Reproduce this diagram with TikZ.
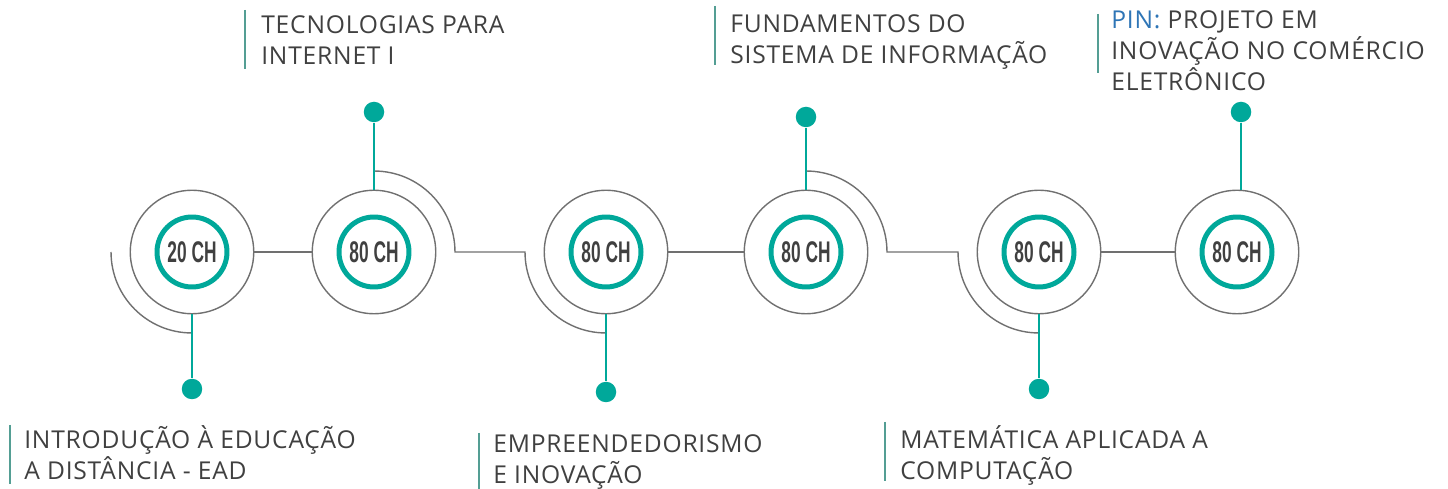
\documentclass[tikz,border=0pt]{standalone}
\usepackage{fontspec}
\setmainfont{Open Sans}[LetterSpace=3.2]
\newfontfamily\chfont{Liberation Sans}
\definecolor{tealmain}{RGB}{0,168,154}
\definecolor{barteal}{RGB}{84,158,148}
\definecolor{ringgray}{RGB}{112,112,112}
\definecolor{textgray}{RGB}{64,64,64}
\definecolor{pinblue}{RGB}{46,117,182}
\newcommand{\chlabel}[1]{\scalebox{0.58}[1]{\chfont\bfseries\fontsize{17}{17}\selectfont #1 CH}}
\newcommand{\lblstrut}{\rule{0pt}{15pt}}
\tikzset{outer/.style = {draw=ringgray, line width=0.8pt, circle, inner sep=0, minimum size=2.47cm}}
\tikzset{ring/.style = {draw=tealmain, line width=0.1cm, circle, inner sep=0, minimum size=1.4cm, text=textgray}}
\tikzset{dot/.style = {fill=tealmain, circle, inner sep=0, minimum size=0.41cm}}
\tikzset{track/.style = {draw=ringgray, line width=0.8pt}}
\tikzset{stem/.style = {draw=tealmain, line width=1.1pt}}
\tikzset{bar/.style = {draw=barteal, line width=1.1pt}}
\tikzset{lbl/.style = {anchor=north west, align=left, inner sep=0, text=textgray,
                       font=\fontsize{14}{17.8}\selectfont}}

\begin{document}
\begin{tikzpicture}[x=0.02cm, y=0.02cm]
  \useasboundingbox (0, 0) rectangle (1448, -489);
  % circles
  \node [outer] (c1) at (192, -252) {};
  \node [outer] (c2) at (374, -252) {};
  \node [outer] (c3) at (606, -252) {};
  \node [outer] (c4) at (806, -252) {};
  \node [outer] (c5) at (1039, -252) {};
  \node [outer] (c6) at (1237, -252) {};
  \node [ring] (r1) at (c1) {\chlabel{20}};
  \node [ring] (r2) at (c2) {\chlabel{80}};
  \node [ring] (r3) at (c3) {\chlabel{80}};
  \node [ring] (r4) at (c4) {\chlabel{80}};
  \node [ring] (r5) at (c5) {\chlabel{80}};
  \node [ring] (r6) at (c6) {\chlabel{80}};
  % track
  \draw [track] (c1) -- (c2);
  \draw [track] (c3) -- (c4);
  \draw [track] (c5) -- (c6);
  \draw [track] ([xshift=-1.62cm]c1.center) arc [start angle=180, end angle=270, radius=1.62cm];
  \draw [track] ([yshift=1.62cm]c2.center) arc [start angle=90, end angle=0, radius=1.62cm]
    -- ([xshift=-1.62cm]c3.center) arc [start angle=180, end angle=270, radius=1.62cm];
  \draw [track] ([yshift=1.62cm]c4.center) arc [start angle=90, end angle=0, radius=1.62cm]
    -- ([xshift=-1.62cm]c5.center) arc [start angle=180, end angle=270, radius=1.62cm];
  % dots
  \node [dot] (d1) at (192, -389) {};
  \node [dot] (d2) at (374, -112) {};
  \node [dot] (d3) at (606, -392) {};
  \node [dot] (d4) at (806, -117) {};
  \node [dot] (d5) at (1039, -389) {};
  \node [dot] (d6) at (1241, -112) {};
  \draw [stem] (c1) -- (d1);
  \draw [stem] (c2) -- (d2);
  \draw [stem] (c3) -- (d3);
  \draw [stem] (c4) -- (d4);
  \draw [stem] (c5) -- (d5);
  \draw [stem] (d6) -- (d6 |- c6.north);
  % labels
  \node [lbl] (l1) at (24, -421.6) {\lblstrut INTRODUÇÃO À EDUCAÇÃO\\A DISTÂNCIA - EAD};
  \node [lbl] (l2) at (261, -6.6) {\lblstrut TECNOLOGIAS PARA\\INTERNET I};
  \node [lbl] (l3) at (493, -426) {\lblstrut EMPREENDEDORISMO\\E INOVAÇÃO};
  \node [lbl] (l4) at (730, -5.6) {\lblstrut FUNDAMENTOS DO\\SISTEMA DE INFORMAÇÃO};
  \node [lbl] (l5) at (900, -421.6) {\lblstrut MATEMÁTICA APLICADA A\\COMPUTAÇÃO};
  \node [lbl] (l6) at (1111, -1.6) {\lblstrut\textcolor{pinblue}{PIN:} PROJETO EM\\INOVAÇÃO NO COMÉRCIO\\ELETRÔNICO};
  \foreach \x/\y in {10/425, 245/10, 479/433, 715/6, 885/422, 1098/14}
    \draw [bar] (\x, -\y) -- +(0, -59);
\end{tikzpicture}
\end{document}
